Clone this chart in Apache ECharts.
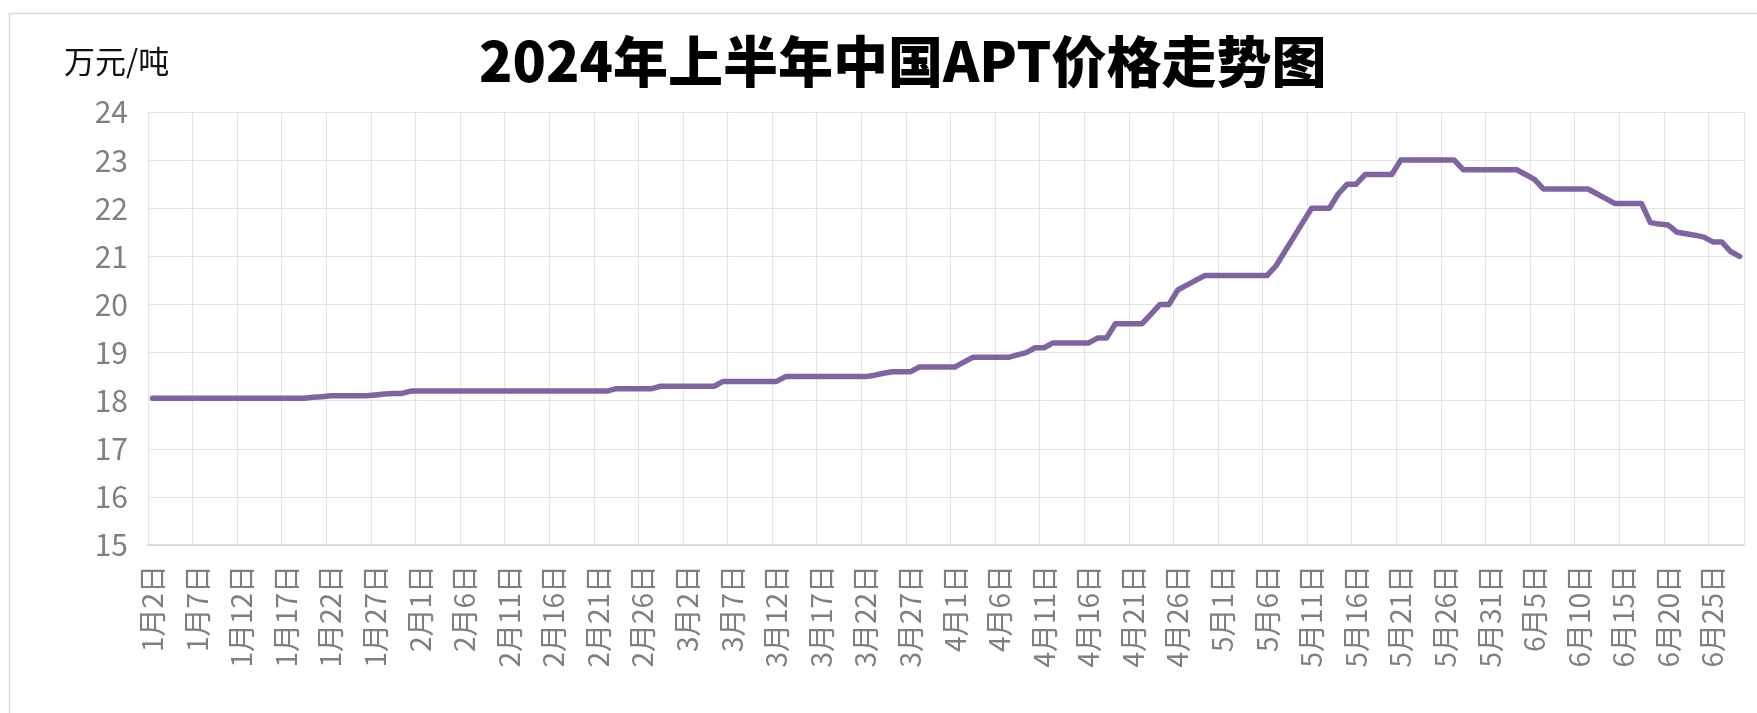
<!DOCTYPE html>
<html>
<head>
<meta charset="utf-8">
<title>2024年上半年中国APT价格走势图</title>
<script src="https://cdn.jsdelivr.net/npm/echarts@6.0.0/dist/echarts.min.js"></script>
<style>
  html, body { margin: 0; padding: 0; background: #fff; }
  #chart { width: 1757px; height: 713px; }
</style>
</head>
<body>
<div id="chart"></div>
<script>
  // daily price, 万元/吨, one array per month (1月2日 .. 6月28日)
  const jan = [18.05, 18.05, 18.05, 18.05, 18.05, 18.05, 18.05, 18.05, 18.05, 18.05,
    18.05, 18.05, 18.05, 18.05, 18.05, 18.05, 18.05, 18.05, 18.07, 18.08,
    18.1, 18.1, 18.1, 18.1, 18.1, 18.12, 18.14, 18.15, 18.15, 18.2]
  const feb = [18.2, 18.2, 18.2, 18.2, 18.2, 18.2, 18.2, 18.2, 18.2, 18.2,
    18.2, 18.2, 18.2, 18.2, 18.2, 18.2, 18.2, 18.2, 18.2, 18.2,
    18.2, 18.2, 18.25, 18.25, 18.25, 18.25, 18.25, 18.3, 18.3]
  const mar = [18.3, 18.3, 18.3, 18.3, 18.3, 18.4, 18.4, 18.4, 18.4, 18.4,
    18.4, 18.4, 18.5, 18.5, 18.5, 18.5, 18.5, 18.5, 18.5, 18.5,
    18.5, 18.5, 18.53, 18.57, 18.6, 18.6, 18.6, 18.7, 18.7, 18.7, 18.7]
  const apr = [18.7, 18.8, 18.9, 18.9, 18.9, 18.9, 18.9, 18.95, 19.0, 19.1,
    19.1, 19.2, 19.2, 19.2, 19.2, 19.2, 19.3, 19.3, 19.6, 19.6,
    19.6, 19.6, 19.8, 20.0, 20.0, 20.3, 20.4, 20.5, 20.6, 20.6]
  const may = [20.6, 20.6, 20.6, 20.6, 20.6, 20.6, 20.8, 21.1, 21.4, 21.7,
    22.0, 22.0, 22.0, 22.3, 22.5, 22.5, 22.7, 22.7, 22.7, 22.7,
    23.0, 23.0, 23.0, 23.0, 23.0, 23.0, 23.0, 22.8, 22.8, 22.8, 22.8]
  const jun = [22.8, 22.8, 22.8, 22.7, 22.6, 22.4, 22.4, 22.4, 22.4, 22.4,
    22.4, 22.3, 22.2, 22.1, 22.1, 22.1, 22.1, 21.7, 21.67, 21.65,
    21.5, 21.47, 21.44, 21.4, 21.3, 21.3, 21.1, 21.0]

  const months = [
    { m: 1, first: 2, values: jan },
    { m: 2, first: 1, values: feb },
    { m: 3, first: 1, values: mar },
    { m: 4, first: 1, values: apr },
    { m: 5, first: 1, values: may },
    { m: 6, first: 1, values: jun }
  ]

  const yTicks = { min: 15, max: 24, step: 1 }
  const labelEvery = 5

  const categories = []
  const prices = []
  months.forEach(({ m, first, values }) => {
    values.forEach((v, i) => {
      categories.push(m + '月' + (first + i) + '日')
      prices.push(v)
    })
  })

  const font = '"Noto Sans CJK SC", "Microsoft YaHei", sans-serif'
  const gridColor = '#e4e4e4'
  const labelColor = '#7f7f7f'

  function initChart() {
    const chart = echarts.init(document.getElementById('chart'), null, { renderer: 'canvas' })
    chart.setOption({
      animation: false,
      backgroundColor: '#fff',
      title: {
        text: '2024年上半年中国APT价格走势图',
        left: 474,
        top: 29,
        textStyle: {
          fontFamily: font,
          fontSize: 55,
          fontWeight: 900,
          color: '#000'
        }
      },
      graphic: [
        {
          type: 'rect',
          z: -1,
          silent: true,
          shape: { x: 9.5, y: 13.5, width: 1800, height: 800 },
          style: { fill: 'none', stroke: '#d9d9d9', lineWidth: 1.5 }
        },
        {
          type: 'text',
          left: 64,
          top: 46,
          style: {
            text: '万元/吨',
            font: '31px ' + font,
            fill: '#111'
          }
        }
      ],
      grid: {
        left: 148,
        right: 13,
        top: 112,
        bottom: 168
      },
      xAxis: {
        type: 'category',
        data: categories,
        boundaryGap: true,
        axisLine: { lineStyle: { color: '#d4d4d4', width: 1.5 } },
        axisTick: { show: false },
        axisLabel: {
          interval: labelEvery - 1,
          rotate: 90,
          margin: 20,
          color: labelColor,
          fontFamily: font,
          fontSize: 28
        },
        splitLine: {
          show: true,
          interval: labelEvery - 1,
          lineStyle: { color: gridColor, width: 1.2 }
        }
      },
      yAxis: {
        type: 'value',
        min: yTicks.min,
        max: yTicks.max,
        interval: yTicks.step,
        axisLine: { show: false },
        axisTick: { show: false },
        axisLabel: {
          margin: 20,
          color: labelColor,
          fontFamily: font,
          fontSize: 30
        },
        splitLine: { lineStyle: { color: gridColor, width: 1.2 } }
      },
      series: [{
        name: 'APT',
        type: 'line',
        data: prices,
        showSymbol: false,
        lineStyle: { color: '#8064a2', width: 5.5, cap: 'round', join: 'round' }
      }]
    })
  }

  initChart()
</script>
</body>
</html>
